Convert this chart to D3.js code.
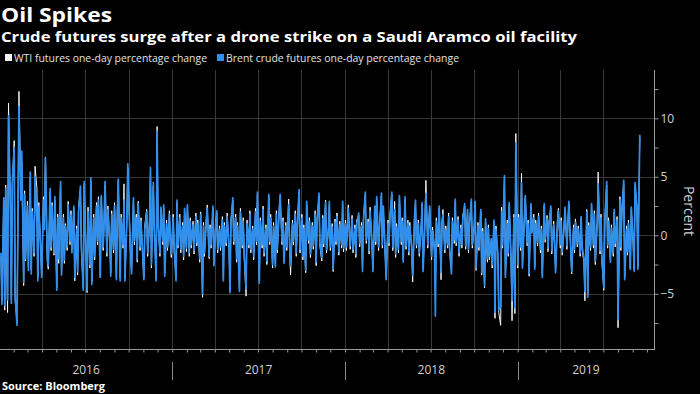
<!DOCTYPE html>
<html><head><meta charset="utf-8">
<script src="https://cdn.jsdelivr.net/npm/d3@7"></script>
<style>body{margin:0;background:#000;} svg{display:block;font-family:"Open Sans",sans-serif}</style>
</head><body>
<svg id="c" width="700" height="394"></svg>
<script>
// Sessions: every second trading day from 2016-01-05 to 2019-09-16
const firstSession = "2016-01-05";
const sessionStep = 2;
const brent = [
-1.5,-5.9,3.2,-6.0,4.0,-5.5,10.2,2.0,-5.8,4.5,7.5,-5.2,-7.7,1.5,11.0,3.0,7.2,-4.0,3.5,-2.0,2.5,-3.0,5.4,
-3.3,2.0,-1.5,5.0,1.0,-3.9,2.5,-1.0,-3.6,3.0,0.5,6.6,-2.0,-2.6,4.0,-1.0,2.5,-1.5,3.3,-4.7,1.5,-2.0,4.6,
-3.4,1.5,-2.1,0.8,-1.0,2.6,-0.5,1.8,-1.5,2.5,-3.6,0.5,-3.1,2.0,4.2,-1.0,-4.7,4.6,1.0,-4.7,2.0,-2.5,4.9,-4.2,1.5,-1.8,2.5,-0.5,3.0,-3.6,
3.4,-1.0,1.0,4.6,-1.5,2.2,-0.5,-3.5,1.8,-1.2,2.5,-3.8,2.0,4.8,-3.9,1.5,-0.8,3.0,-3.9,1.0,6.1,0.5,-1.5,-3.3,3.2,-0.5,1.5,-2.0,2.7,-1.0,1.2,-2.0,-3.8,0.5,2.0,-1.5,1.0,5.8,-2.5,4.5,0.5,-3.9,8.9,1.0,-1.5,
2.4,-0.5,2.6,-3.5,1.0,-1.0,1.8,-0.5,-1.6,1.5,-1.0,-3.9,3.0,-0.8,1.5,-1.2,0.8,-1.8,2.3,-1.1,2.6,-1.5,1.2,-0.8,0.9,-1.3,1.6,-0.6,1.0,-2.0,
1.8,-5.0,0.8,-1.5,1.2,2.3,-1.8,0.6,-0.8,2.5,-2.6,1.0,2.1,-1.2,0.5,-1.0,1.3,-3.9,0.8,-0.6,1.6,-1.0,-4.9,1.0,3.2,-0.5,1.5,-2.0,0.8,-4.8,
2.0,-0.8,1.2,-1.5,-4.6,1.0,-0.8,1.8,-1.2,0.5,-1.8,2.0,-0.5,3.7,-4.1,1.2,-0.8,2.2,-1.5,0.6,-2.2,3.5,-0.5,1.5,-2.5,0.8,-2.7,1.8,-1.2,2.0,
3.5,-0.5,1.2,-2.4,0.8,-1.0,2.6,-0.8,-2.6,1.0,-0.5,1.8,-1.5,0.5,3.9,-1.2,1.5,-1.8,0.6,-3.0,2.9,-0.4,1.2,-1.6,0.8,-0.9,1.8,-2.3,1.0,3.6,
-0.6,-1.9,1.4,-0.7,2.8,-1.2,0.4,2.9,-1.0,0.7,-2.9,1.1,-0.5,1.6,-1.4,0.9,-0.8,2.9,-1.1,1.0,-1.0,2.3,0.3,-0.9,1.4,-1.2,0.6,-1.6,1.0,1.9,
-0.7,0.8,-3.1,1.2,3.7,-0.4,1.1,-1.3,2.1,-0.6,-3.1,2.5,
-0.5,3.3,-1.0,0.6,3.6,-0.8,2.5,-1.5,-3.8,1.0,-0.6,1.4,3.7,-1.0,2.2,-1.6,0.7,-1.2,3.4,-0.5,1.2,-2.3,3.3,-0.9,1.0,-1.4,0.8,-1.0,-3.4,1.5,
3.0,-0.8,1.0,-1.5,0.6,2.8,-3.1,1.0,3.6,-0.8,0.9,2.5,-1.8,0.4,-1.0,-6.9,1.2,-0.7,2.5,-3.2,0.8,1.8,-1.2,0.5,-0.8,1.6,-1.0,-3.3,1.2,-0.4,
3.1,-0.6,1.3,-1.5,0.6,-0.8,1.4,2.7,-0.9,2.2,-1.2,0.7,
3.1,-0.8,0.5,2.9,-2.8,0.8,-1.0,2.2,-3.2,0.3,-4.3,1.4,-2.0,0.6,-1.8,-0.3,-2.5,1.3,-6.6,0.5,-1.5,-6.4,-6.1,2.0,-0.8,5.1,-3.6,1.0,-1.5,2.8,
-2.0,-5.6,1.5,-6.2,7.9,-2.5,1.5,-1.0,
4.5,-2.8,1.2,3.4,-0.6,1.0,-3.3,2.7,0.2,1.5,-2.9,1.0,-0.6,1.6,-1.2,0.5,-3.6,2.7,-0.3,1.4,-1.1,0.8,2.5,-1.3,0.9,-0.7,-3.2,1.0,2.1,-0.8,
1.2,-1.4,0.6,2.4,-0.9,0.8,2.9,-1.0,-3.1,0.6,-1.2,1.1,-0.7,0.5,-1.5,1.6,-0.9,-2.0,-4.8,2.0,-5.3,0.8,-1.0,2.7,-0.8,1.8,-2.2,0.9,4.4,-1.3,
1.5,-2.0,-4.5,1.0,4.6,-0.8,1.2,-2.3,0.6,-1.5,2.2,-0.7,1.3,-7.2,3.0,-1.0,1.8,4.7,-3.8,0.5,-1.4,1.0,-2.9,2.4,-0.5,-3.1,4.5,2.3,-2.9,8.6
];
const wti = [
-1.8,-5.6,3.0,-6.4,4.3,-6.6,11.3,2.4,-5.5,4.2,8.1,-5.6,-7.3,1.9,12.3,3.4,6.2,-4.3,3.8,-2.2,2.9,-2.7,5.0,
-3.0,2.3,-1.8,5.9,4.0,-3.6,2.8,-1.2,-3.4,3.3,0.8,6.7,-2.3,-2.9,3.7,-1.3,2.8,-1.7,3.0,-4.5,1.8,-2.4,4.4,
-3.2,1.8,-2.4,1.0,-1.3,2.9,-0.8,2.1,-1.2,2.3,-3.9,0.8,-3.4,2.3,4.0,-1.3,-4.5,4.4,1.3,-4.9,2.4,-2.8,4.6,-4.0,1.8,-2.1,2.8,-0.8,3.3,-3.6,
3.2,-1.3,1.3,4.3,-1.8,2.5,-0.8,-3.2,2.1,-1.5,2.8,-3.6,2.3,4.7,-3.7,1.8,-1.1,4.4,-3.7,1.3,5.8,0.8,-1.8,-3.1,3.0,-0.8,1.8,-2.3,2.9,-1.3,1.5,-2.3,-3.6,0.8,2.2,-1.8,1.3,5.5,-2.8,4.2,0.8,-3.7,9.3,1.3,-1.8,
2.2,-0.8,2.4,-3.3,1.3,-1.3,2.1,-0.8,-1.9,1.8,-1.3,-3.6,2.8,-1.1,1.8,-1.5,1.1,-2.1,2.1,-1.4,2.4,-1.8,1.5,-1.1,1.2,-1.6,1.9,-0.9,1.3,-2.3,
2.0,-5.3,1.1,-1.8,1.5,2.6,-2.0,0.9,-1.1,2.3,-2.4,1.3,1.9,-1.5,0.8,-1.3,1.6,-3.7,1.1,-0.9,1.9,-1.3,-4.7,1.3,3.0,-0.8,1.8,-2.3,1.1,-4.6,
2.3,-1.1,1.5,-1.8,-5.2,1.3,-1.1,2.1,-1.5,0.8,-2.1,2.3,-0.8,3.5,-3.9,1.5,-1.1,2.5,-1.8,0.9,-2.5,3.3,-0.8,1.8,-2.8,1.1,-2.5,2.1,-1.5,2.3,
3.3,-0.8,1.5,-2.2,1.1,-1.3,3.1,-1.1,-3.4,1.3,-0.8,2.1,-1.8,0.8,3.7,-1.5,1.8,-2.1,0.9,-3.2,2.7,-0.7,1.5,-1.9,1.1,-1.2,2.1,-2.6,1.3,3.4,
-0.9,-2.2,1.7,-1.0,3.0,-1.5,0.7,2.7,-1.3,1.0,-3.1,1.4,-0.8,1.9,-1.7,1.2,-1.1,2.7,-1.4,1.3,-1.3,2.6,0.6,-1.2,1.7,-1.5,0.9,-1.9,1.3,1.7,
-1.0,1.1,-2.9,1.5,3.5,-0.7,1.4,-1.6,2.4,-0.9,-2.9,2.3,
-0.8,3.1,-1.3,0.9,3.4,-1.1,2.3,-1.8,-3.6,1.3,-0.9,1.7,3.5,-1.3,2.9,-1.9,1.0,-1.5,3.2,-0.8,1.5,-2.1,3.1,-1.2,1.3,-1.7,1.1,-1.3,-4.0,1.8,
2.8,-1.1,1.3,-1.8,0.9,2.6,-2.9,1.3,4.7,-1.1,1.2,2.3,-2.1,0.7,-1.3,-5.0,1.5,-1.0,2.3,-3.8,1.1,2.2,-1.5,0.8,-1.1,1.9,-1.3,-3.1,1.5,-0.7,
2.9,-0.9,1.6,-1.8,0.9,-1.1,1.7,2.5,-1.2,2.0,-1.5,1.0,
2.9,-1.1,0.8,2.7,-3.0,1.1,-1.3,2.0,-3.4,0.6,-4.5,1.2,-2.3,0.9,-2.1,-0.6,-2.8,1.1,-7.1,0.8,-1.8,-6.6,-7.7,2.4,-1.1,4.9,-3.4,1.3,-1.8,2.6,
-2.3,-7.3,1.8,-6.7,8.7,-2.8,1.8,-1.3,
5.3,-2.6,1.5,3.2,-0.9,1.3,-3.5,2.5,0.5,1.8,-2.7,1.3,-0.9,1.9,-1.5,0.8,-3.4,2.5,-0.6,1.7,-1.4,1.1,2.3,-1.6,1.2,-1.0,-3.0,1.3,2.3,-1.1,
1.5,-1.7,0.9,2.2,-1.2,1.1,2.7,-1.3,-3.3,0.9,-1.5,1.4,-1.0,0.8,-1.8,1.4,-1.2,-2.3,-5.6,2.2,-5.1,1.1,-1.3,2.5,-1.1,2.1,-2.5,1.2,5.4,-1.6,
1.8,-2.3,-4.7,1.3,4.3,-1.1,1.5,-2.1,0.9,-1.8,2.0,-1.0,1.6,-7.9,3.3,-1.3,2.1,4.4,-3.6,0.8,-1.7,1.3,-2.9,2.2,-0.8,-2.9,4.2,2.4,-2.7,8.4
];
const labeledTicks = [10, 5, 0, -5];
const minorTicks = [12.5, 7.5, 2.5, -2.5, -7.5];
const years = ["2016", "2017", "2018", "2019"];
const legendNames = ["WTI futures one-day percentage change", "Brent crude futures one-day percentage change"];
const colors = {wti: "#f4f4f4", brent: "#3190ee"};

// build trading-session dates
const parse = d3.utcParse("%Y-%m-%d");
const dates = [];
let cur = parse(firstSession);
for (let i = 0; i < brent.length; i++) {
  dates.push(cur);
  let n = 0, nx = cur;
  while (n < sessionStep) { nx = d3.utcDay.offset(nx, 1); const wd = nx.getUTCDay(); if (wd !== 0 && wd !== 6) n++; }
  cur = nx;
}

const svg = d3.select("#c");
svg.append("rect").attr("width", 700).attr("height", 394).attr("fill", "#000");

const L = 0, R = 654, T = 70, B = 349;
const x = d3.scaleUtc().domain([Date.UTC(2016,0,3), Date.UTC(2019,9,16)]).range([L, R]);
const y = d3.scaleLinear().domain([-9.72, 14.13]).range([B, T]);

// grid
const g = svg.append("g");
g.selectAll(".hg").data(labeledTicks).join("line")
  .attr("x1", L).attr("x2", R).attr("y1", d => Math.round(y(d)) + 0.5).attr("y2", d => Math.round(y(d)) + 0.5)
  .attr("stroke", "#383838").attr("stroke-width", 1);
const quarters = d3.utcMonth.every(3).range(Date.UTC(2016,1,1), Date.UTC(2019,8,30));
g.selectAll(".vg").data(quarters).join("line")
  .attr("x1", d => Math.round(x(d)) + 0.5).attr("x2", d => Math.round(x(d)) + 0.5).attr("y1", T).attr("y2", B)
  .attr("stroke", "#383838").attr("stroke-width", 1);

// series
svg.append("clipPath").attr("id", "clip").append("rect").attr("x", L).attr("y", T).attr("width", R - L).attr("height", B - T);
const line = vals => d3.line().x((d, i) => x(dates[i])).y(d => y(d))(vals);
const plot = svg.append("g").attr("clip-path", "url(#clip)");
plot.append("path").attr("d", line(wti)).attr("fill", "none").attr("stroke", colors.wti).attr("stroke-width", 1.0).attr("stroke-linejoin", "round");
plot.append("path").attr("d", line(brent)).attr("fill", "none").attr("stroke", colors.brent).attr("stroke-width", 1.7).attr("stroke-linejoin", "round");

// right axis
const ra = svg.append("g").attr("transform", `translate(${R + 0.5},0)`)
  .call(d3.axisRight(y).tickValues(labeledTicks.concat(minorTicks)).tickSize(4).tickPadding(2)
    .tickFormat(d => labeledTicks.includes(d) ? d3.format("d")(d) : ""));
ra.select(".domain").attr("stroke", "#9a9a9a").attr("d", `M0,${T}V${B}`);
ra.selectAll(".tick line").attr("stroke", "#9a9a9a");
ra.selectAll(".tick text").attr("fill", "#d0d0d0").style("font-size", "12px").style("font-family", "Open Sans");
svg.append("text").attr("transform", `translate(684,${211}) rotate(90)`)
  .attr("text-anchor", "middle").attr("fill", "#d0d0d0").style("font-size", "14px").text("Percent");

// bottom axis
const ba = svg.append("g").attr("transform", `translate(0,${B + 0.5})`)
  .call(d3.axisBottom(x).ticks(d3.utcMonth.every(1)).tickSize(3).tickFormat(""));
ba.select(".domain").attr("stroke", "#9a9a9a").attr("d", `M${L},0H${R + 1}`);
ba.selectAll(".tick line").attr("stroke", "#9a9a9a");

const yearStarts = years.map(yy => Date.UTC(+yy, 0, 1));
svg.selectAll(".ysep").data(yearStarts.slice(1)).join("line")
  .attr("x1", d => Math.round(x(d)) + 0.5).attr("x2", d => Math.round(x(d)) + 0.5).attr("y1", 362).attr("y2", 380)
  .attr("stroke", "#8a8a8a");
svg.selectAll(".ylab").data(years).join("text")
  .attr("x", (d, i) => { const a = Math.max(x(yearStarts[i]), L); const b = Math.min(x(Date.UTC(+d + 1, 0, 1)), R); return (a + b) / 2; })
  .attr("y", 374).attr("text-anchor", "middle").attr("fill", "#d0d0d0").style("font-size", "12px").text(d => d);

// titles
svg.append("text").attr("x", 1).attr("y", 22).attr("fill", "#fff").style("font-size", "20px").style("font-weight", "bold")
  .attr("textLength", 111).attr("lengthAdjust", "spacingAndGlyphs").text("Oil Spikes");
svg.append("text").attr("x", 1).attr("y", 42).attr("fill", "#fff").style("font-size", "15px").style("font-weight", "bold")
  .attr("textLength", 576).attr("lengthAdjust", "spacingAndGlyphs").text("Crude futures surge after a drone strike on a Saudi Aramco oil facility");

// legend
const lg = svg.append("g");
lg.append("rect").attr("x", 5).attr("y", 54).attr("width", 7).attr("height", 7).attr("fill", colors.wti);
lg.append("text").attr("x", 14).attr("y", 62).attr("fill", "#e0e0e0").style("font-size", "11px")
  .attr("textLength", 193).attr("lengthAdjust", "spacingAndGlyphs").text(legendNames[0]);
lg.append("rect").attr("x", 217).attr("y", 54).attr("width", 7).attr("height", 7).attr("fill", colors.brent);
lg.append("text").attr("x", 226).attr("y", 62).attr("fill", "#e0e0e0").style("font-size", "11px")
  .attr("textLength", 233).attr("lengthAdjust", "spacingAndGlyphs").text(legendNames[1]);

svg.append("text").attr("x", 2).attr("y", 390).attr("fill", "#fff").style("font-size", "11px").style("font-weight", "bold")
  .text("Source: Bloomberg");
</script>
</body></html>
